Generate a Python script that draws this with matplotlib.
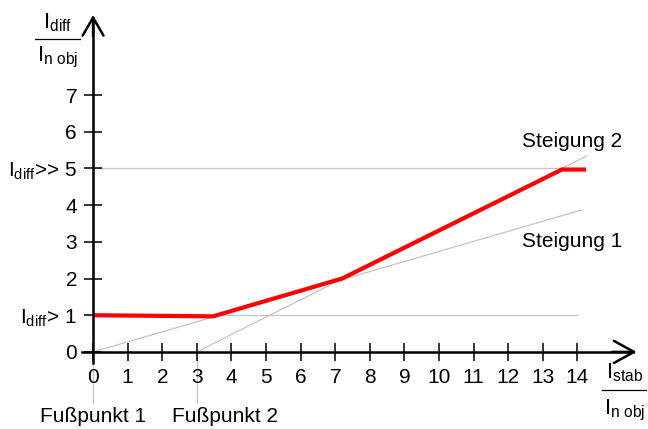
import matplotlib
matplotlib.use("Agg")
import matplotlib.pyplot as plt
from matplotlib.lines import Line2D

plt.rcParams['font.family'] = ['Liberation Sans', 'DejaVu Sans']
plt.rcParams['mathtext.fontset'] = 'custom'
plt.rcParams['mathtext.rm'] = 'Liberation Sans'
plt.rcParams['mathtext.it'] = 'Liberation Sans'

# characteristic (tripping curve)
char_x = [0.0, 3.47, 7.2, 13.55, 14.25]
char_y = [1.0, 0.97, 2.0, 4.97, 4.97]

# helper lines
idiff_low = 1.0
idiff_high = 5.0
slope1_x = [0.0, 14.13]
slope1_y = [0.0, 3.87]
slope2_x = [3.0, 14.27]
slope2_y = [0.0, 5.34]
base_points = [0.0, 3.0]

x_ticks = list(range(0, 15))
y_ticks = list(range(0, 8))
y_tick_labels = ['0', r'$\mathregular{I_{diff}}$> 1', '2', '3', '4',
                 r'$\mathregular{I_{diff}}$>> 5', '6', '7']

FS = 15
GRAY = '#c4c4c4'

fig = plt.figure(figsize=(6.48, 4.29), dpi=100)
ax = fig.add_axes([0, 0, 1, 1])
ax.set_xlim(-2.69, 16.04)
ax.set_ylim(-2.10, 9.59)
ax.patch.set_visible(False)

# gray construction lines
ax.plot([0, 14.0], [idiff_low, idiff_low], color=GRAY, lw=0.9, zorder=1)
ax.plot([0, 14.0], [idiff_high, idiff_high], color=GRAY, lw=0.9, zorder=1)
ax.plot(slope1_x, slope1_y, color=GRAY, lw=0.9, zorder=1)
ax.plot(slope2_x, slope2_y, color=GRAY, lw=0.9, zorder=1)
for bp in base_points:
    ax.plot([bp, bp], [0, -1.39], color=GRAY, lw=0.9, zorder=1)

# tripping characteristic
ax.plot(char_x, char_y, color='#ff0000', lw=3.0, solid_capstyle='butt',
        solid_joinstyle='round', zorder=3)

# axes through the origin
for side in ('top', 'right'):
    ax.spines[side].set_visible(False)
ax.spines['left'].set_position(('data', 0))
ax.spines['bottom'].set_position(('data', 0))
ax.spines['left'].set_bounds(-0.3, 9.1)
ax.spines['bottom'].set_bounds(-0.32, 15.6)
for side in ('left', 'bottom'):
    ax.spines[side].set_linewidth(1.8)
    ax.spines[side].set_zorder(4)

ax.set_xticks(x_ticks)
ax.set_xticklabels([str(v) for v in x_ticks])
ax.set_yticks(y_ticks)
ax.set_yticklabels(y_tick_labels)
ax.tick_params(direction='inout', length=13, width=1.1, labelsize=FS, color='black')
ax.tick_params(axis='x', pad=5)
ax.tick_params(axis='y', pad=5)

# arrow heads
ax.annotate('', xy=(15.71, 0), xytext=(15.0, 0),
            arrowprops=dict(arrowstyle='->,head_length=1.45,head_width=0.8',
                            lw=1.8, color='black', shrinkA=0, shrinkB=0),
            zorder=5)
ax.annotate('', xy=(0, 9.18), xytext=(0, 8.6),
            arrowprops=dict(arrowstyle='->,head_length=1.3,head_width=0.75',
                            lw=1.8, color='black', shrinkA=0, shrinkB=0),
            zorder=5)

# axis quantities written as fractions
def fraction(xc, y_num, y_bar, y_den, x0, x1, num, den):
    fig.text(xc / 648, 1 - y_num / 429, num, fontsize=16, ha='center', va='center')
    fig.text(xc / 648, 1 - y_den / 429, den, fontsize=16, ha='center', va='center')
    fig.add_artist(Line2D([x0 / 648, x1 / 648], [1 - y_bar / 429, 1 - y_bar / 429],
                          color='black', lw=0.9))

fraction(58, 23, 39, 57, 35, 80, r'$\mathregular{I_{diff}}$', r'$\mathregular{I_{n\ obj}}$')
fraction(625, 373, 390, 410, 602, 646, r'$\mathregular{I_{stab}}$', r'$\mathregular{I_{n\ obj}}$')

# annotations
ax.text(15.3, 5.74, 'Steigung 2', fontsize=FS, ha='right', va='center')
ax.text(15.3, 3.0, 'Steigung 1', fontsize=FS, ha='right', va='center')
ax.text(0, -1.75, 'Fußpunkt 1', fontsize=FS, ha='center', va='center')
ax.text(3.81, -1.75, 'Fußpunkt 2', fontsize=FS, ha='center', va='center')

fig.savefig('out.png', dpi=100)
